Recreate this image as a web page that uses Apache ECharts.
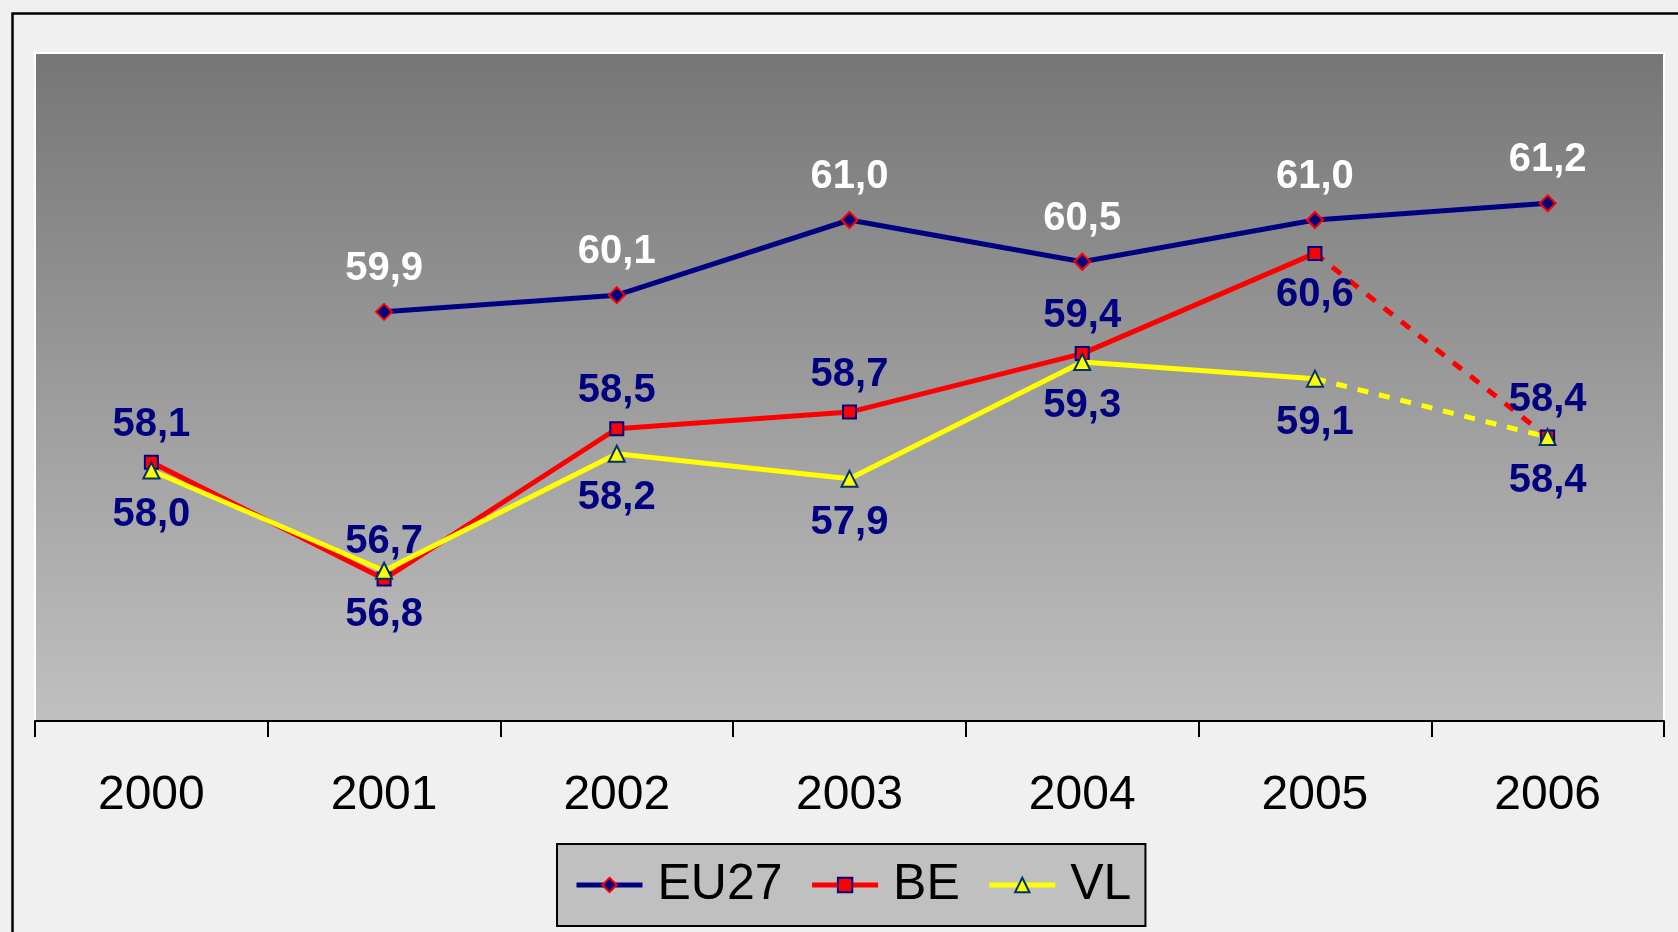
<!DOCTYPE html>
<html>
<head>
<meta charset="utf-8">
<title>EU27 / BE / VL</title>
<script src="https://cdn.jsdelivr.net/npm/echarts@6/dist/echarts.min.js"></script>
<style>
   html, body { margin: 0; padding: 0; background: #f0f0f0; }
   #chart { width: 1678px; height: 932px; }
</style>
</head>
<body>
<div id="chart"></div>
<script>
// categories and values
const years = ['2000', '2001', '2002', '2003', '2004', '2005', '2006'];
const eu27 = [null, 59.9, 60.1, 61.0, 60.5, 61.0, 61.2];
const be = [58.1, 56.7, 58.5, 58.7, 59.4, 60.6, 58.4];
const vl = [58.0, 56.8, 58.2, 57.9, 59.3, 59.1, 58.4];
// the last segment (2005 -> 2006) is drawn dashed for BE and VL
const lastSolid = 5;
// BE labels that sit below the point instead of above
const beLabelBelow = [5];

const FONT = "'Liberation Sans', Arial, sans-serif";
const NAVY = '#000080';

const fmt = (p) => p.value == null ? '' : Number(p.value).toFixed(1).replace('.', ',');

const labelStyle = (color, position, distance) => ({
   show: true,
   position: position,
   distance: distance,
   formatter: fmt,
   color: color,
   fontSize: 40,
   fontWeight: 'bold',
   fontFamily: FONT,
});

// solid part: everything up to lastSolid
const solidPart = (arr) => arr.map((v, i) => (i <= lastSolid ? v : null));
// dashed part: from lastSolid on, no marker/label on the first point
const dashedPart = (arr) =>
   arr.map((v, i) => {
      if (i < lastSolid) return null;
      if (i === lastSolid) return { value: v, symbol: 'none', label: { show: false } };
      return v;
   });

const chart = echarts.init(document.getElementById('chart'), null, { renderer: 'canvas' });

const beStyle = {
   symbol: 'rect',
   symbolSize: 13,
   itemStyle: { color: '#ff0000', borderColor: NAVY, borderWidth: 2 },
   lineStyle: { color: '#ff0000', width: 5 },
};
const vlStyle = {
   symbol: 'triangle',
   symbolSize: 16,
   itemStyle: { color: '#ffff00', borderColor: '#003366', borderWidth: 2 },
   lineStyle: { color: '#ffff00', width: 5 },
};

const option = {
   animation: false,
   backgroundColor: '#f0f0f0',
   grid: {
      left: 35,
      right: 14,
      top: 53,
      bottom: 211,
      show: true,
      borderColor: '#ffffff',
      borderWidth: 2,
      backgroundColor: {
         type: 'linear', x: 0, y: 0, x2: 0, y2: 1,
         colorStops: [
            { offset: 0, color: '#767676' },
            { offset: 1, color: '#c0c0c0' },
         ],
      },
   },
   xAxis: {
      type: 'category',
      data: years,
      boundaryGap: true,
      axisLine: { lineStyle: { color: '#000', width: 2 } },
      axisTick: { show: true, length: 16, lineStyle: { color: '#000', width: 2 } },
      axisLabel: { color: '#000', fontSize: 48, fontFamily: FONT, margin: 51 },
      splitLine: { show: false },
   },
   yAxis: {
      type: 'value',
      min: 55,
      max: 63,
      show: false,
   },
   legend: {
      data: ['EU27', 'BE', 'VL'],
      left: 557,
      top: 844,
      orient: 'horizontal',
      backgroundColor: '#c0c0c0',
      borderColor: '#000',
      borderWidth: 2,
      borderRadius: 0,
      padding: [16, 14, 16, 17],
      itemGap: 27,
      itemWidth: 66,
      itemHeight: 18,
      lineStyle: { width: 5 },
      textStyle: {
         color: '#000',
         fontSize: 50,
         fontFamily: FONT,
         padding: [0, 0, 0, 10],
      },
   },
   graphic: [
      {
         type: 'rect',
         left: 10,
         top: 11,
         shape: { width: 1720, height: 1000 },
         style: { fill: 'none', stroke: '#000', lineWidth: 2.5 },
         silent: true,
         z: -1,
      },
   ],
   series: [
      {
         name: 'EU27',
         type: 'line',
         data: eu27,
         symbol: 'diamond',
         symbolSize: 16,
         itemStyle: { color: NAVY, borderColor: '#ff0000', borderWidth: 2 },
         lineStyle: { color: NAVY, width: 5 },
         label: labelStyle('#ffffff', 'top', 14),
         z: 2,
      },
      {
         name: 'BE',
         type: 'line',
         data: solidPart(be).map((v, i) =>
            beLabelBelow.includes(i) ? { value: v, label: { position: 'bottom', distance: 14 } } : v
         ),
         ...beStyle,
         label: labelStyle(NAVY, 'top', 10),
         z: 3,
      },
      {
         name: 'BE 2006',
         type: 'line',
         data: dashedPart(be),
         ...beStyle,
         lineStyle: { color: '#ff0000', width: 5, type: [11, 11] },
         label: labelStyle(NAVY, 'top', 10),
         z: 3,
      },
      {
         name: 'VL',
         type: 'line',
         data: solidPart(vl),
         ...vlStyle,
         label: labelStyle(NAVY, 'bottom', 15),
         z: 4,
      },
      {
         name: 'VL 2006',
         type: 'line',
         data: dashedPart(vl),
         ...vlStyle,
         lineStyle: { color: '#ffff00', width: 5, type: [11, 11] },
         label: labelStyle(NAVY, 'bottom', 15),
         z: 4,
      },
   ],
};

chart.setOption(option);
</script>
</body>
</html>
